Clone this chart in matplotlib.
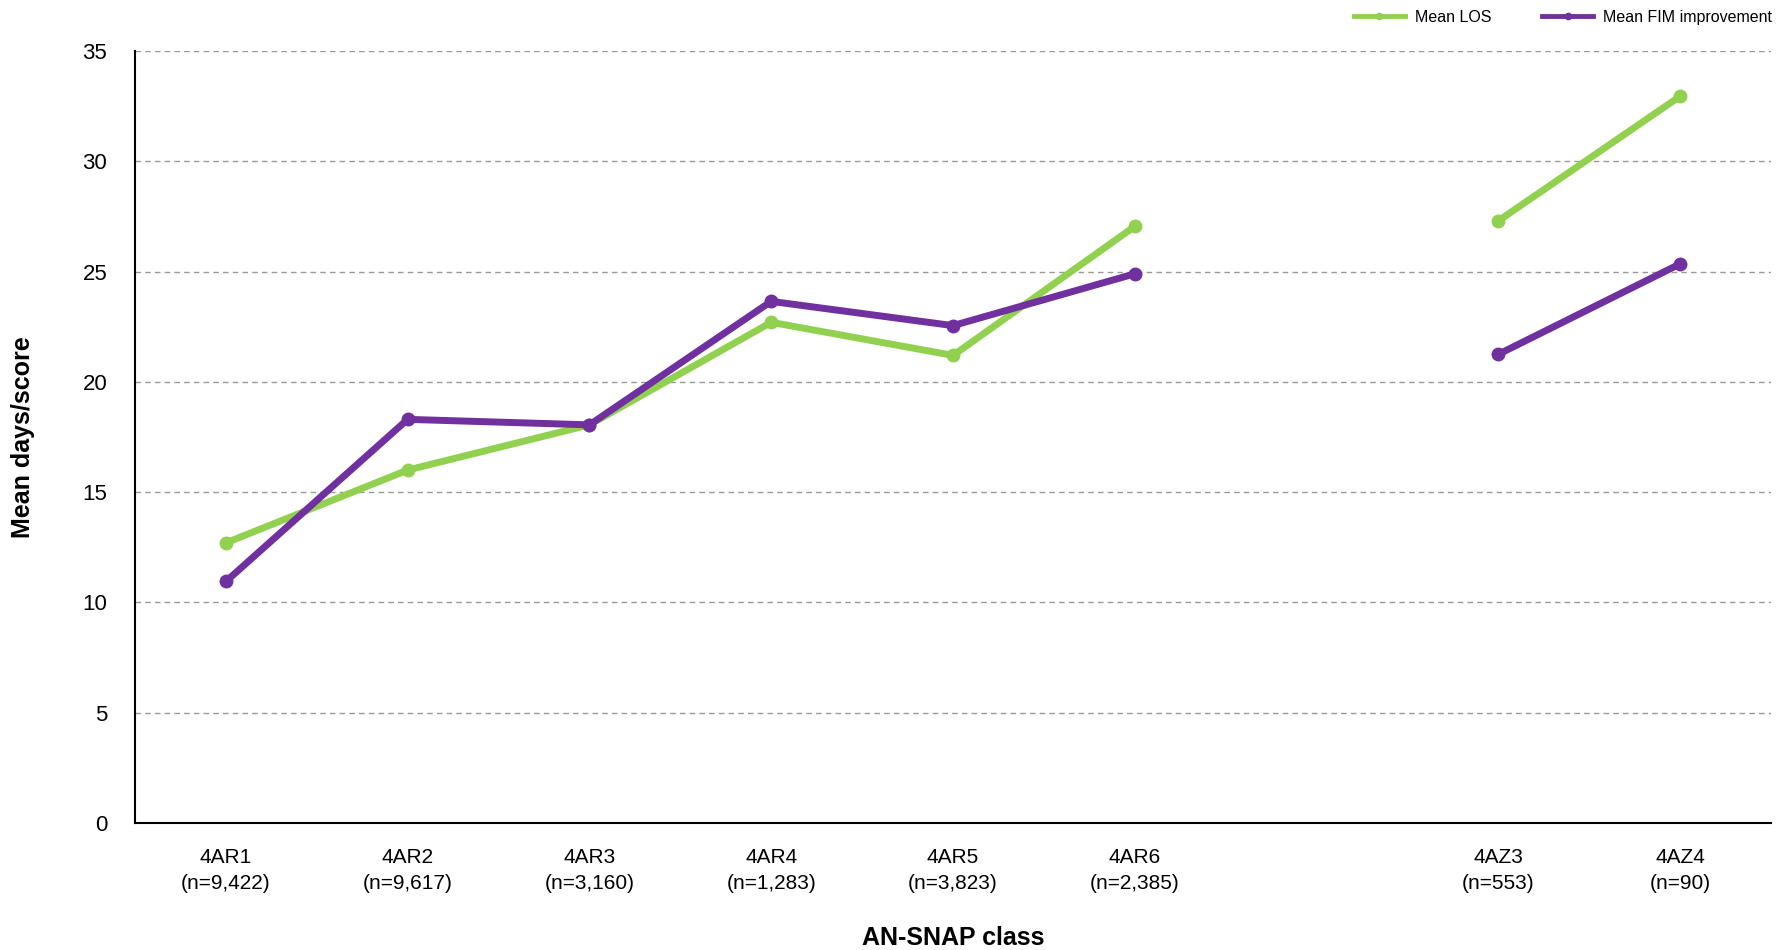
import matplotlib.pyplot as plt
import numpy as np

# données
classes = ["4AR1\n(n=9,422)", "4AR2\n(n=9,617)", "4AR3\n(n=3,160)", "4AR4\n(n=1,283)",
           "4AR5\n(n=3,823)", "4AR6\n(n=2,385)", "", "4AZ3\n(n=553)", "4AZ4\n(n=90)"]
los_ar = [12.7, 16.0, 18.05, 22.7, 21.2, 27.05]
fim_ar = [10.95, 18.3, 18.05, 23.65, 22.55, 24.9]
los_az = [27.3, 32.95]
fim_az = [21.25, 25.35]

plt.rcParams['font.family'] = ['Liberation Sans', 'DejaVu Sans']

green = '#92D050'
purple = '#7030A0'

fig = plt.figure(figsize=(17.88, 9.5), dpi=100)
ax = fig.add_axes([0.0755, 0.1337, 0.915, 0.8126])

x_ar = np.arange(6)
x_az = np.array([7, 8])

ax.plot(x_ar, los_ar, color=green, lw=5, marker='o', ms=9, label="Mean LOS", zorder=3)
ax.plot(x_az, los_az, color=green, lw=5, marker='o', ms=9, zorder=3)
ax.plot(x_ar, fim_ar, color=purple, lw=5, marker='o', ms=9, label="Mean FIM improvement", zorder=4)
ax.plot(x_az, fim_az, color=purple, lw=5, marker='o', ms=9, zorder=4)

ax.set_xlim(-0.5, 8.5)
ax.set_ylim(0, 35)
ax.set_yticks(range(0, 36, 5))
ax.set_xticks(range(9))
ax.set_xticklabels(classes, fontsize=15, linespacing=1.45)
ax.tick_params(axis='y', labelsize=16, length=0, pad=20)
ax.tick_params(axis='x', length=0, pad=18)
ax.yaxis.grid(True, color='#999999', ls=(0, (4, 3)), lw=1)
ax.set_axisbelow(True)

for s in ['top', 'right']:
    ax.spines[s].set_visible(False)
for s in ['left', 'bottom']:
    ax.spines[s].set_linewidth(1.5)
    ax.spines[s].set_color('black')

ax.set_ylabel("Mean days/score", fontsize=18, fontweight='bold', labelpad=34)
ax.set_xlabel("AN-SNAP class", fontsize=18, fontweight='bold', labelpad=24)

leg = fig.legend(loc='upper right', bbox_to_anchor=(0.999, 1.005), ncol=2, frameon=False,
                 fontsize=11.5, handlelength=3.2, handletextpad=0.6, markerscale=0.5,
                 columnspacing=3.2)
for h in leg.get_lines():
    h.set_linewidth(3.5)

fig.savefig("out.png", dpi=100)
